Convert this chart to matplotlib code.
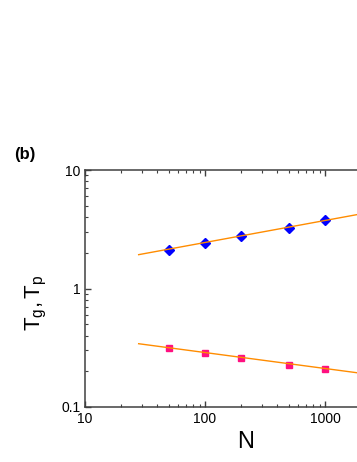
import matplotlib
matplotlib.use("Agg")
import matplotlib.pyplot as plt

plt.rcParams['font.family'] = ['Liberation Sans', 'DejaVu Sans']
plt.rcParams['mathtext.fontset'] = 'custom'
plt.rcParams['mathtext.rm'] = 'Liberation Sans'
plt.rcParams['mathtext.it'] = 'Liberation Sans'

# data
N = [50, 100, 200, 500, 1000]
Tg = [2.13, 2.44, 2.75, 3.27, 3.82]
Tp = [0.312, 0.287, 0.257, 0.228, 0.210]

# power-law fit lines (end points)
fit_N = [28, 10000]
fit_Tg = [1.93, 5.75]
fit_Tp = [0.342, 0.155]

x_ticks = [10, 100, 1000]
x_labels = ['10', '100', '1000']
y_ticks = [0.1, 1, 10]
y_labels = ['0.1', '1', '10']

fig = plt.figure(figsize=(3.57, 4.62), dpi=100)
# axes runs past the right edge like in the cropped original
ax = fig.add_axes([85 / 357, 55 / 462, 360 / 357, 237 / 462])

ax.plot(N, Tg, linestyle='none', marker='D', markersize=5.5, color='#0000ff', zorder=2)
ax.plot(N, Tp, linestyle='none', marker='s', markersize=5, color='#ff1080', zorder=2)
ax.plot(fit_N, fit_Tg, color='#ff8c00', lw=1.0, zorder=3)
ax.plot(fit_N, fit_Tp, color='#ff8c00', lw=1.0, zorder=3)

ax.set_xscale('log')
ax.set_yscale('log')
ax.set_xlim(10, 10000)
ax.set_ylim(0.1, 10)
ax.set_xticks(x_ticks, x_labels)
ax.set_yticks(y_ticks, y_labels)

for s in ax.spines.values():
    s.set_color('#404040')
    s.set_linewidth(1.1)
ax.tick_params(which='both', direction='in', top=True, right=True,
               color='#404040', labelsize=10, pad=3.5)
ax.tick_params(which='major', length=4.5, width=1)
ax.tick_params(which='minor', length=2.5, width=0.8)

ax.set_xlabel('N', fontsize=17)
ax.xaxis.set_label_coords(0.447, -0.10)
ax.set_ylabel(r'$\mathrm{T_{g}, T_{p}}$', fontsize=16)
ax.yaxis.set_label_coords(-0.10, 0.44)

fig.text(14 / 357, 1 - 155 / 462, '(b)', fontsize=12, fontweight='bold', va='center')

fig.savefig('out.png', dpi=100)
